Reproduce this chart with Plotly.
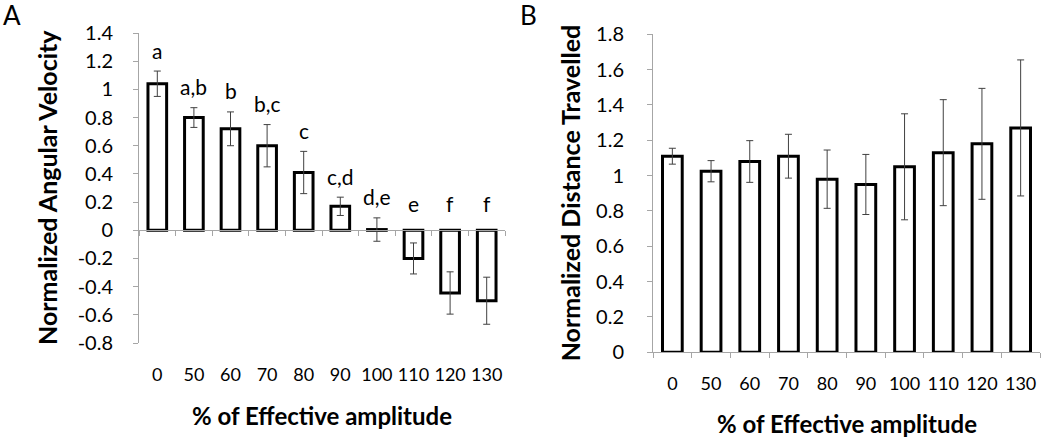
import plotly.graph_objects as go

# ---- data ----
categories = ["0", "50", "60", "70", "80", "90", "100", "110", "120", "130"]

angular_velocity = [1.04, 0.80, 0.72, 0.60, 0.41, 0.17, 0.005, -0.20, -0.445, -0.50]
angular_err = [0.09, 0.07, 0.12, 0.15, 0.15, 0.065, 0.083, 0.11, 0.15, 0.167]
sig_letters = ["a", "a,b", "b", "b,c", "c", "c,d", "d,e", "e", "f", "f"]

distance = [1.11, 1.025, 1.08, 1.11, 0.98, 0.95, 1.05, 1.13, 1.18, 1.27]
distance_err = [0.045, 0.06, 0.118, 0.124, 0.165, 0.17, 0.30, 0.30, 0.314, 0.385]

a_tickvals = [-0.8, -0.6, -0.4, -0.2, 0, 0.2, 0.4, 0.6, 0.8, 1.0, 1.2, 1.4]
a_ticktext = ["-0.8", "-0.6", "-0.4", "-0.2", "0", "0.2", "0.4", "0.6", "0.8", "1", "1.2", "1.4"]
b_tickvals = [0, 0.2, 0.4, 0.6, 0.8, 1.0, 1.2, 1.4, 1.6, 1.8]
b_ticktext = ["0", "0.2", "0.4", "0.6", "0.8", "1", "1.2", "1.4", "1.6", "1.8"]

x_title = "% of Effective amplitude"
a_ytitle = "Normalized Angular Velocity"
b_ytitle = "Normalized Distance Travelled"

# ---- style ----
W, H = 1050, 438
FONT = "Lato"
AXIS_GRAY = "#a6a6a6"
ERR_GRAY = "#404040"

a_xdom = [139 / W, 505 / W]
a_ydom = [1 - 343 / H, 1 - 33 / H]
a_yrange = [-0.8, 1.4]
b_xdom = [653 / W, 1040 / W]
b_ydom = [1 - 352.3 / H, 1 - 34.3 / H]
b_yrange = [0, 1.8]

zero_pos = a_ydom[0] + (0 - a_yrange[0]) / (a_yrange[1] - a_yrange[0]) * (a_ydom[1] - a_ydom[0])

bar_style = dict(marker=dict(color="white", line=dict(color="black", width=3)), width=0.51,
                 showlegend=False, hoverinfo="x+y")
err_style = dict(type="data", color=ERR_GRAY, thickness=1, width=3.5, visible=True)

fig = go.Figure()
fig.add_trace(go.Bar(x=categories, y=angular_velocity,
                     error_y=dict(array=angular_err, **err_style),
                     xaxis="x", yaxis="y", **bar_style))
# invisible helper trace carrying the zero-crossing axis of panel A
fig.add_trace(go.Scatter(x=categories, y=[0] * len(categories), mode="markers",
                         marker=dict(opacity=0), xaxis="x3", yaxis="y",
                         showlegend=False, hoverinfo="skip"))
fig.add_trace(go.Bar(x=categories, y=distance,
                     error_y=dict(array=distance_err, **err_style),
                     xaxis="x2", yaxis="y2", **bar_style))

xtickfont = dict(family=FONT, size=18, color="black")
ytickfont = dict(family=FONT, size=20, color="black")
yaxis_common = dict(showline=True, linecolor=AXIS_GRAY, linewidth=1, ticks="outside",
                    ticklen=5, tickcolor=AXIS_GRAY, showgrid=False, zeroline=False,
                    tickfont=ytickfont, fixedrange=True, automargin=False)

fig.update_layout(
    width=W, height=H, margin=dict(l=0, r=0, t=0, b=0, pad=0, autoexpand=False),
    paper_bgcolor="white", plot_bgcolor="white",
    font=dict(family=FONT, color="black"),
    bargap=0.49,
    xaxis=dict(domain=a_xdom, anchor="y", type="category", categoryarray=categories,
               range=[-0.5, len(categories) - 0.5], showline=False, ticks="",
               showgrid=False, zeroline=False, tickfont=xtickfont, tickangle=0,
               ticklabelstandoff=19, automargin=False),
    xaxis3=dict(overlaying="x", anchor="free", position=zero_pos, type="category",
                categoryarray=categories, range=[-0.5, len(categories) - 0.5],
                showline=True, linecolor=AXIS_GRAY, linewidth=1, ticks="outside",
                tickson="boundaries", ticklen=5, tickcolor=AXIS_GRAY,
                showticklabels=False, showgrid=False, zeroline=False, automargin=False),
    yaxis=dict(domain=a_ydom, anchor="x", range=a_yrange, tickvals=a_tickvals,
               ticktext=a_ticktext, ticklabelstandoff=16, **yaxis_common),
    xaxis2=dict(domain=b_xdom, anchor="y2", type="category", categoryarray=categories,
                range=[-0.5, len(categories) - 0.5], showline=True, linecolor=AXIS_GRAY,
                linewidth=1, ticks="outside", tickson="boundaries", ticklen=5,
                tickcolor=AXIS_GRAY, showgrid=False, zeroline=False, tickfont=xtickfont,
                tickangle=0, ticklabelstandoff=15, automargin=False),
    yaxis2=dict(domain=b_ydom, anchor="x2", range=b_yrange, tickvals=b_tickvals,
                ticktext=b_ticktext, ticklabelstandoff=19, **yaxis_common),
)

annotations = []
# significance letters above panel A bars
for i, (v, e, txt) in enumerate(zip(angular_velocity, angular_err, sig_letters)):
    annotations.append(dict(x=i, y=max(v + e, 0.04), xref="x", yref="y", text=txt,
                            showarrow=False, yanchor="middle", yshift=21,
                            font=dict(family=FONT, size=21, color="black")))

xtitle_font = dict(family=FONT, size=24, color="black", weight="bold")
ytitle_font = dict(family=FONT, size=25, color="black", weight="bold")
annotations += [
    dict(x=sum(a_xdom) / 2, y=1 - 415 / H, xref="paper", yref="paper", text=x_title,
         showarrow=False, xanchor="center", yanchor="middle", font=xtitle_font),
    dict(x=sum(b_xdom) / 2, y=1 - 423 / H, xref="paper", yref="paper", text=x_title,
         showarrow=False, xanchor="center", yanchor="middle", font=xtitle_font),
    dict(x=47 / W, y=sum(a_ydom) / 2, xref="paper", yref="paper", text=a_ytitle,
         textangle=-90, showarrow=False, xanchor="center", yanchor="middle", font=ytitle_font),
    dict(x=570 / W, y=sum(b_ydom) / 2, xref="paper", yref="paper", text=b_ytitle,
         textangle=-90, showarrow=False, xanchor="center", yanchor="middle", font=ytitle_font),
    dict(x=12 / W, y=1 - 15 / H, xref="paper", yref="paper", text="A", showarrow=False,
         xanchor="center", yanchor="middle", font=dict(family=FONT, size=26, color="black")),
    dict(x=528 / W, y=1 - 15 / H, xref="paper", yref="paper", text="B", showarrow=False,
         xanchor="center", yanchor="middle", font=dict(family=FONT, size=26, color="black")),
]
fig.update_layout(annotations=annotations)

# remove the default page margin so the figure sits at the window's top-left corner
fig.write_html("out.html", config={"displayModeBar": False},
               post_script="document.body.style.margin='0px';")
